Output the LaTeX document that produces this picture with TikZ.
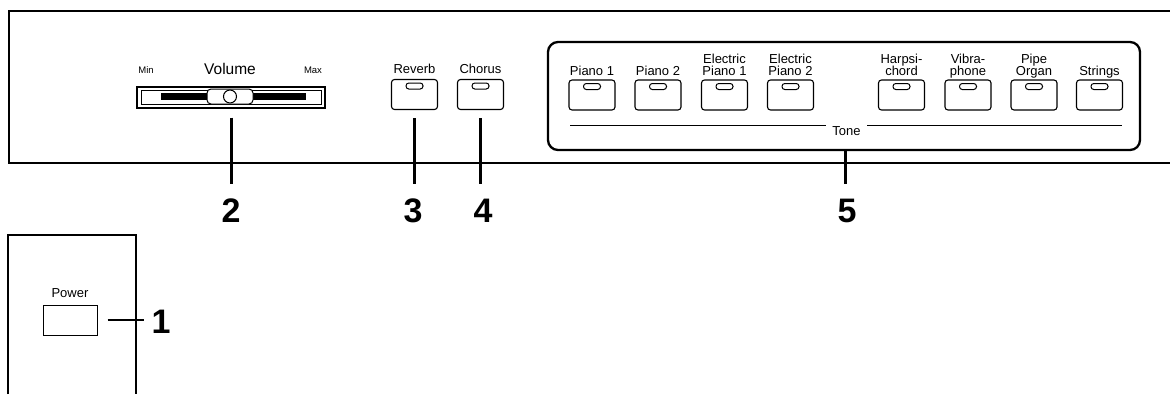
\documentclass[tikz,border=0pt]{standalone}
\usepackage{fontspec}
\setmainfont{Liberation Sans}
\begin{document}
\begin{tikzpicture}[x=1pt,y=-1pt,
  panel/.style={line width=1.3pt},
  btn/.style={draw,line width=1.1pt,rounded corners=3pt,minimum width=46pt,minimum height=30pt,inner sep=0pt,fill=white},
  led/.style={draw,line width=1pt,rounded corners=2.8pt,minimum width=17pt,minimum height=6pt,inner sep=0pt},
  lbl/.style={anchor=base,inner sep=0pt,font=\fontsize{13}{14}\selectfont},
  small/.style={anchor=base,inner sep=0pt,font=\fontsize{9.5}{11}\selectfont},
  num/.style={anchor=base,inner sep=0pt,font=\fontsize{34}{36}\selectfont\bfseries},
  callout/.style={line width=3pt},
]
\useasboundingbox (0,0) rectangle (1170,394);
% main panel
\draw[panel] (1170,11) -- (9,11) -- (9,163) -- (1170,163);
% volume slider
\node[draw,line width=1.1pt,minimum width=188pt,minimum height=21pt,inner sep=0pt] (vol) at (231,97.5) {};
\node[draw,line width=0.8pt,minimum width=180pt,minimum height=14pt,inner sep=0pt] (volin) at (231,97) {};
\node[fill=black,minimum width=145pt,minimum height=7pt,inner sep=0pt] (volbar) at (233.5,96.5) {};
\node[draw,fill=white,line width=1pt,rounded corners=4pt,minimum width=46pt,minimum height=15pt,inner sep=0pt] (knob) at (230,96.5) {};
\node[draw,circle,line width=1pt,minimum size=13pt,inner sep=0pt,fill=white] (knobc) at (230,96.5) {};
\node[small] (vmin) at (146,73) {Min};
\node[lbl,font=\fontsize{15.5}{17}\selectfont] (vname) at (230,74) {Volume};
\node[small] (vmax) at (313,73) {Max};
% reverb / chorus
\node[btn] (rev) at (414.5,94.5) {};
\node[led] (revl) at (414.5,86) {};
\node[lbl] (revt) at (414.5,73) {Reverb};
\node[btn] (cho) at (480.5,94.5) {};
\node[led] (chol) at (480.5,86) {};
\node[lbl] (chot) at (480.5,73) {Chorus};
% tone group
\draw[line width=2.3pt,rounded corners=10pt] (548,42) rectangle (1140,150);
\node[coordinate] (tonebot) at (845,150) {};
\foreach \n/\x in {t1/592,t2/658,t3/724.5,t4/790.5,t5/901.5,t6/968,t7/1034,t8/1099.5}{
  \node[btn] (\n) at (\x,95) {};
  \node[led] (\n l) at (\x,86.5) {};
}
\node[lbl] (l1) at (592,75) {Piano 1};
\node[lbl] (l2) at (658,75) {Piano 2};
\node[lbl] (l3a) at (724.5,63) {Electric};
\node[lbl] (l3b) at (724.5,75) {Piano 1};
\node[lbl] (l4a) at (790.5,63) {Electric};
\node[lbl] (l4b) at (790.5,75) {Piano 2};
\node[lbl] (l5a) at (901.5,63) {Harpsi-};
\node[lbl] (l5b) at (901.5,75) {chord};
\node[lbl] (l6a) at (968,63) {Vibra-};
\node[lbl] (l6b) at (968,75) {phone};
\node[lbl] (l7a) at (1034,63) {Pipe};
\node[lbl] (l7b) at (1034,75) {Organ};
\node[lbl] (l8) at (1099.5,75) {Strings};
\node[lbl] (tone) at (846.5,135) {Tone};
\draw[line width=0.8pt] (570,125) -- (826,125);
\draw[line width=0.8pt] (867,125) -- (1122,125);
% power panel
\draw[panel] (8,394) -- (8,235) -- (136,235) -- (136,394);
\node[draw,line width=1pt,minimum width=54pt,minimum height=30pt,inner sep=0pt] (pow) at (70,320) {};
\node[lbl] (powt) at (70,297) {Power};
% numbers
\node[num] (n1) at (161,333) {1};
\node[num] (n2) at (231,222) {2};
\node[num] (n3) at (413,222) {3};
\node[num] (n4) at (483,222) {4};
\node[num] (n5) at (847,222) {5};
% callouts
\draw[callout,shorten <=9pt,shorten >=14pt] (vol.south) -- (vol.south |- n2.north);
\draw[callout,shorten <=8pt,shorten >=14pt] (rev.south) -- (rev.south |- n3.north);
\draw[callout,shorten <=8pt,shorten >=14pt] (cho.south) -- (cho.south |- n4.north);
\draw[callout,shorten >=14pt] (tonebot) -- (tonebot |- n5.north);
\draw[line width=2.5pt,shorten <=10pt,shorten >=7pt] (pow.east) -- (n1.west |- pow.east);
\end{tikzpicture}
\end{document}
